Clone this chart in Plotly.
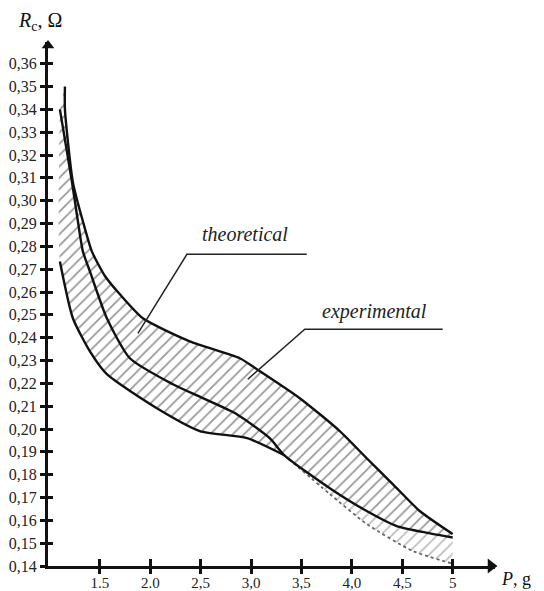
import plotly.graph_objects as go

# ---- data ----
# upper boundary of the hatched band
P_up = [1.153, 1.153, 1.232, 1.331, 1.420, 1.550, 1.698, 1.926, 2.392, 2.888, 3.057, 3.483, 3.880, 4.147, 4.405, 4.673, 5.0]
R_up = [0.350, 0.340, 0.308, 0.291, 0.2778, 0.2670, 0.259, 0.2485, 0.2384, 0.231, 0.2262, 0.2135, 0.1991, 0.1872, 0.1759, 0.1641, 0.154]

# middle curve
P_mid = [1.103, 1.222, 1.282, 1.331, 1.401, 1.569, 1.797, 2.224, 2.521, 2.858, 3.185, 3.33, 3.781, 4.147, 4.445, 4.75, 5.0]
R_mid = [0.340, 0.3084, 0.2909, 0.2778, 0.269, 0.2485, 0.231, 0.2196, 0.2135, 0.2065, 0.196, 0.1885, 0.1741, 0.1641, 0.1575, 0.1545, 0.1525]

# lower curve, solid part
P_low = [1.103, 1.232, 1.401, 1.569, 2.065, 2.491, 2.96, 3.33]
R_low = [0.2734, 0.2485, 0.234, 0.224, 0.2091, 0.1991, 0.196, 0.1885]

# lower curve, faint part
P_faint = [3.33, 3.781, 4.147, 4.603, 5.0]
R_faint = [0.1885, 0.1715, 0.1584, 0.1466, 0.141]

# left edge of the hatched band (above the lower curve start)
P_edge = [1.103]
R_edge = [0.340]

x_tickvals = [1.5, 2.0, 2.5, 3.0, 3.5, 4.0, 4.5, 5.0]
x_ticktext = ["1.5", "2.0", "2,5", "3,0", "3,5", "4,0", "4,5", "5"]
y_tickvals = [0.14, 0.15, 0.16, 0.17, 0.18, 0.19, 0.20, 0.21, 0.22, 0.23, 0.24, 0.25,
              0.26, 0.27, 0.28, 0.29, 0.30, 0.31, 0.32, 0.33, 0.34, 0.35, 0.36]
y_ticktext = ["0,14", "0,15", "0,16", "0,17", "0,18", "0,19", "0,20", "0,21", "0,22", "0,23", "0,24", "0,25",
              "0,26", "0,27", "0,28", "0,29", "0,30", "0,31", "0,32", "0,33", "0,34", "0,35", "0,36"]

XR = [0.985, 5.42]
YR = [0.14, 0.3695]

# split index of the middle curve where the faint part starts
j = P_mid.index(P_faint[0])

SM = 0.6
fig = go.Figure()

# dark hatched region: lower envelope (edge + lower solid + middle right part)
lower1_x = P_edge + P_low + P_mid[j + 1:]
lower1_y = R_edge + R_low + R_mid[j + 1:]
fig.add_trace(go.Scatter(x=lower1_x, y=lower1_y, mode="lines",
                         line=dict(width=0, shape="spline", smoothing=SM),
                         hoverinfo="skip"))
fig.add_trace(go.Scatter(x=P_up, y=R_up, mode="lines", fill="tonexty",
                         fillcolor="rgba(0,0,0,0)",
                         fillpattern=dict(shape="/", size=8, solidity=0.22,
                                          fgcolor="#303030", bgcolor="rgba(0,0,0,0)"),
                         line=dict(width=0, shape="spline", smoothing=SM),
                         hoverinfo="skip"))

# lighter hatched region between the middle curve and the faint lower curve
fig.add_trace(go.Scatter(x=P_faint, y=R_faint, mode="lines",
                         line=dict(width=0, shape="spline", smoothing=SM),
                         hoverinfo="skip"))
fig.add_trace(go.Scatter(x=P_mid[j:], y=R_mid[j:], mode="lines", fill="tonexty",
                         fillcolor="rgba(0,0,0,0)",
                         fillpattern=dict(shape="/", size=8, solidity=0.22,
                                          fgcolor="#7a7a7a", bgcolor="rgba(0,0,0,0)"),
                         line=dict(width=0, shape="spline", smoothing=SM),
                         hoverinfo="skip"))

# visible curves
fig.add_trace(go.Scatter(x=P_faint, y=R_faint, mode="lines",
                         line=dict(color="#666", width=1.8, dash="dot", shape="spline", smoothing=SM)))
fig.add_trace(go.Scatter(x=P_up, y=R_up, mode="lines",
                         line=dict(color="#111", width=2.4, shape="spline", smoothing=SM)))
fig.add_trace(go.Scatter(x=P_mid, y=R_mid, mode="lines",
                         line=dict(color="#111", width=2.4, shape="spline", smoothing=SM)))
fig.add_trace(go.Scatter(x=P_low, y=R_low, mode="lines",
                         line=dict(color="#111", width=2.4, shape="spline", smoothing=SM)))

# axis arrowheads
fig.add_trace(go.Scatter(x=[XR[1] - 0.04], y=[YR[0]], mode="markers", cliponaxis=False,
                         marker=dict(symbol="triangle-right", size=13, color="#111"),
                         hoverinfo="skip"))
fig.add_trace(go.Scatter(x=[XR[0]], y=[YR[1] - 0.0015], mode="markers", cliponaxis=False,
                         marker=dict(symbol="triangle-up", size=11, color="#111"),
                         hoverinfo="skip"))

# invisible traces to register the extra tick axes
fig.add_trace(go.Scatter(x=[XR[0]], y=[YR[0]], xaxis="x2", yaxis="y2", mode="markers",
                         marker=dict(opacity=0), hoverinfo="skip"))
fig.add_trace(go.Scatter(x=[XR[0]], y=[YR[0]], xaxis="x3", yaxis="y2", mode="markers",
                         marker=dict(opacity=0), hoverinfo="skip"))

# leader lines for the labels
fig.add_shape(type="path", path="M 1.877,0.2419 L 2.363,0.2765 L 3.552,0.2765",
              xref="x", yref="y", line=dict(color="#222", width=1.5))
fig.add_shape(type="path", path="M 2.967,0.2218 L 3.533,0.2437 L 4.901,0.2437",
              xref="x", yref="y", line=dict(color="#222", width=1.5))

fig.add_annotation(x=2.938, y=0.2852, text="<i>theoretical</i>", showarrow=False,
                   font=dict(family="Liberation Serif", size=20, color="#222"))
fig.add_annotation(x=4.227, y=0.2515, text="<i>experimental</i>", showarrow=False,
                   font=dict(family="Liberation Serif", size=20, color="#222"))

# axis titles
fig.add_annotation(xref="paper", yref="paper", x=-0.018, y=1.04, xanchor="center", yanchor="middle",
                   text="<i>R</i><sub>c</sub>, Ω",
                   showarrow=False, font=dict(family="Liberation Serif", size=20, color="#111"))
fig.add_annotation(xref="paper", yref="paper", x=1.048, y=-0.025, xanchor="center", yanchor="middle",
                   text="<i>P</i>, g",
                   showarrow=False, font=dict(family="Liberation Serif", size=18, color="#111"))

tickfont = dict(family="Liberation Serif", size=16, color="#222")
fig.update_layout(
    width=536, height=583,
    margin=dict(l=40, r=49, t=34, b=25, autoexpand=False),
    paper_bgcolor="white", plot_bgcolor="white",
    showlegend=False,
    xaxis=dict(range=XR, tickvals=x_tickvals, ticktext=x_ticktext, ticks="outside",
               ticklen=1, tickwidth=2.5, tickcolor="#111", showgrid=False, zeroline=False,
               showline=True, linewidth=3, linecolor="#111",
               tickfont=dict(family="Liberation Serif", size=15, color="#222"), automargin=False),
    yaxis=dict(range=YR, tickvals=y_tickvals, ticktext=y_ticktext, ticks="outside",
               ticklen=5, tickwidth=2.5, tickcolor="#111", showgrid=False, zeroline=False,
               showline=True, linewidth=3, linecolor="#111", tickfont=tickfont, automargin=False),
    xaxis2=dict(range=XR, overlaying="x", anchor="y2", side="bottom", tickvals=x_tickvals,
                ticks="inside", ticklen=7, tickwidth=2.5, tickcolor="#111",
                showticklabels=False, showgrid=False, zeroline=False),
    xaxis3=dict(range=XR, overlaying="x", anchor="y2", side="bottom", tickvals=x_tickvals,
                ticks="outside", ticklen=7, tickwidth=2.5, tickcolor="#111",
                showticklabels=False, showgrid=False, zeroline=False),
    yaxis2=dict(range=YR, overlaying="y", anchor="x2", side="left", tickvals=y_tickvals,
                ticks="inside", ticklen=5, tickwidth=2.5, tickcolor="#111",
                showticklabels=False, showgrid=False, zeroline=False),
)

fig.write_html("out.html")
